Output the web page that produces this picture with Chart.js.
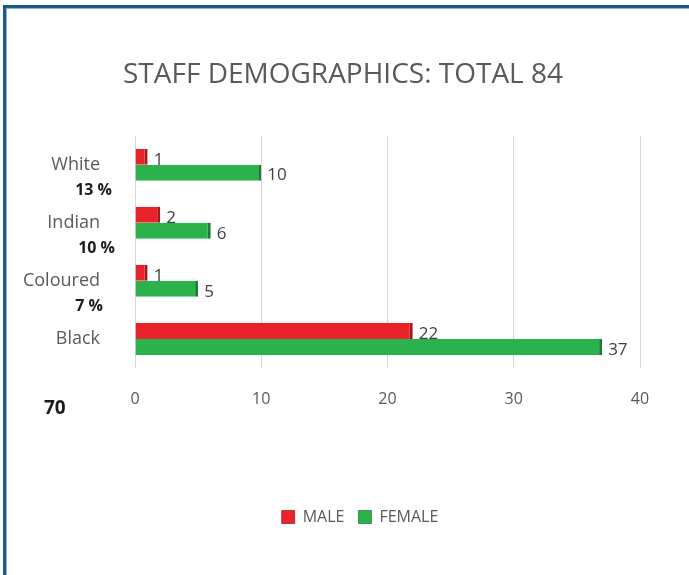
<!DOCTYPE html>
<html>
<head>
<meta charset="utf-8">
<script src="https://cdn.jsdelivr.net/npm/chart.js@4.4.1/dist/chart.umd.min.js"></script>
<style>
  html, body { margin: 0; padding: 0; overflow: hidden; background: #fff; }
  #frame {
    position: absolute; left: 3px; top: 5px; width: 720px; height: 620px;
    border-top: 3px solid #1b5a82; border-left: 3px solid #1b5a82;
    box-shadow: inset 1px 1px 0 #7fb6d6;
  }
  #wrap { position: absolute; left: 0; top: 0; width: 689px; height: 575px; }
</style>
</head>
<body>
<div id="frame"></div>
<div id="wrap"><canvas id="staffChart" width="689" height="575"></canvas></div>
<script>
const categories = ["White", "Indian", "Coloured", "Black"];
const maleData = [1, 2, 1, 22];
const femaleData = [10, 6, 5, 37];
const percentLabels = ["13 %", "10 %", "7 %", "70"];
const xTicks = [0, 10, 20, 30, 40];

const FONT = "'Open Sans', 'Liberation Sans', sans-serif";

// value labels at the end of each bar
const valueLabels = {
  id: "valueLabels",
  afterDatasetsDraw(chart) {
    const ctx = chart.ctx;
    ctx.save();
    ctx.font = "17px " + FONT;
    ctx.fillStyle = "#404040";
    ctx.textBaseline = "middle";
    chart.data.datasets.forEach((ds, di) => {
      chart.getDatasetMeta(di).data.forEach((bar, i) => {
        ctx.fillText(ds.data[i], bar.x + 6, bar.y + 3);
      });
    });
    ctx.restore();
  },
};

// percentage notes under the category names
const percentNotes = {
  id: "percentNotes",
  afterDraw(chart) {
    const ctx = chart.ctx;
    const y = chart.scales.y;
    ctx.save();
    ctx.fillStyle = "#1a1a1a";
    ctx.textBaseline = "middle";
    percentLabels.forEach((txt, i) => {
      const py = y.getPixelForValue(i);
      if (i === percentLabels.length - 1) {
        ctx.font = "bold 19px " + FONT;
        ctx.textAlign = "left";
        ctx.fillText(txt, 44, py + 70);
      } else {
        ctx.font = "bold 16px " + FONT;
        ctx.textAlign = "right";
        ctx.fillText(txt, [112, 115, 103][i], py + 26);
      }
    });
    ctx.restore();
  },
};

// nudge title and legend sideways to sit where the original has them
const shiftBoxes = {
  id: "shiftBoxes",
  afterLayout(chart) {
    chart.titleBlock.left += 23;
    chart.titleBlock.right += 23;
    chart.legend.left += 40;
    chart.legend.right += 40;
  },
};

new Chart(document.getElementById("staffChart"), {
  type: "bar",
  data: {
    labels: categories,
    datasets: [
      {
        label: "MALE",
        data: maleData,
        backgroundColor: "#e8242a",
        borderColor: "#a8161a",
        borderWidth: { top: 0, right: 3, bottom: 0, left: 0 },
        borderSkipped: false,
      },
      {
        label: "FEMALE",
        data: femaleData,
        backgroundColor: "#2bb24c",
        borderColor: "#1a7d33",
        borderWidth: { top: 0, right: 3, bottom: 0, left: 0 },
        borderSkipped: false,
      },
    ],
  },
  options: {
    indexAxis: "y",
    responsive: false,
    animation: false,
    categoryPercentage: 0.55,
    barPercentage: 1.0,
    layout: { padding: { left: 0, right: 49, top: 0, bottom: 40 } },
    scales: {
      x: {
        min: 0,
        max: 40,
        afterBuildTicks: (s) => { s.ticks = xTicks.map((v) => ({ value: v })); },
        afterFit: (s) => { s.height = 127; },
        grid: { color: "#d9d9d9", drawTicks: false },
        border: { display: false },
        ticks: { padding: 22, color: "#595959", font: { family: FONT, size: 16 } },
      },
      y: {
        afterFit: (s) => { s.width = 135; },
        grid: { display: false },
        border: { display: false },
        ticks: { padding: 27, color: "#595959", font: { family: FONT, size: 18 } },
      },
    },
    plugins: {
      title: {
        display: true,
        text: "STAFF DEMOGRAPHICS: TOTAL 84",
        color: "#595959",
        font: { family: FONT, size: 28, weight: "normal" },
        padding: { top: 58, bottom: 44 },
      },
      legend: {
        position: "bottom",
        labels: {
          color: "#595959",
          font: { family: FONT, size: 16 },
          boxWidth: 13,
          boxHeight: 13,
          padding: 14,
        },
      },
      tooltip: { enabled: false },
    },
  },
  plugins: [valueLabels, percentNotes, shiftBoxes],
});
</script>
</body>
</html>
